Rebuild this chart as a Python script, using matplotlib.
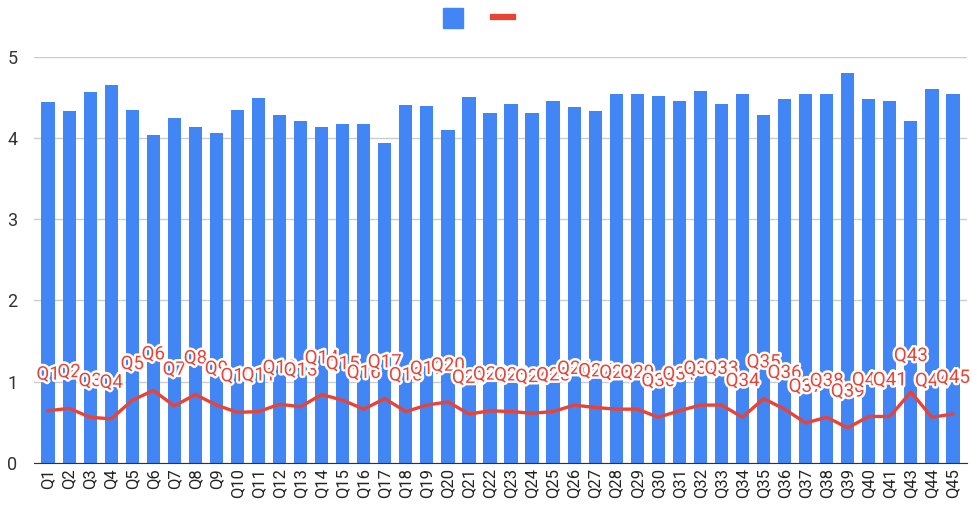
import matplotlib.pyplot as plt
import matplotlib.patheffects as pe
from matplotlib.patches import Rectangle
from matplotlib.lines import Line2D

plt.rcParams['font.family'] = ['Roboto', 'DejaVu Sans']

# categories (Q42 is absent in the source chart)
quarters = ['Q%d' % i for i in range(1, 46) if i != 42]

bar_values = [4.45, 4.33, 4.57, 4.66, 4.35, 4.04, 4.25, 4.14, 4.06, 4.35,
              4.49, 4.29, 4.21, 4.14, 4.18, 4.18, 3.94, 4.41, 4.39, 4.10,
              4.51, 4.31, 4.42, 4.31, 4.46, 4.38, 4.33, 4.54, 4.54, 4.52,
              4.46, 4.58, 4.42, 4.54, 4.29, 4.48, 4.54, 4.54, 4.80, 4.48,
              4.46, 4.21, 4.60, 4.54]

line_values = [0.64, 0.67, 0.56, 0.54, 0.77, 0.89, 0.70, 0.84, 0.71, 0.62,
               0.63, 0.72, 0.69, 0.84, 0.77, 0.66, 0.79, 0.63, 0.71, 0.75,
               0.60, 0.64, 0.63, 0.61, 0.63, 0.71, 0.68, 0.66, 0.66, 0.56,
               0.64, 0.71, 0.71, 0.56, 0.79, 0.66, 0.49, 0.56, 0.43, 0.57,
               0.57, 0.87, 0.56, 0.60]

blue = '#4285F4'
red = '#EA4335'

fig = plt.figure(figsize=(9.77, 5.12), dpi=100)
ax = fig.add_axes([0.0348, 0.0963, 0.9550, 0.7924])

x = list(range(len(quarters)))
ax.bar(x, bar_values, width=0.63, color=blue, zorder=2)
ax.plot(x, line_values, color=red, linewidth=2.4, zorder=3, solid_joinstyle='round')

for xi, v, name in zip(x, line_values, quarters):
    ax.annotate(name, (xi, v), xytext=(0, 26), textcoords='offset points',
                ha='center', va='center', fontsize=13.5, color=red, zorder=4,
                path_effects=[pe.withStroke(linewidth=3.5, foreground='white')])

ax.set_xlim(-0.67, len(quarters) - 1 + 0.67)
ax.set_ylim(0, 5)
ax.set_yticks([0, 1, 2, 3, 4, 5])
ax.set_xticks(x)
ax.set_xticklabels(quarters, rotation=90, fontsize=12, color='#222222')
ax.tick_params(axis='y', labelsize=13, labelcolor='#333333', length=0, pad=12)
ax.tick_params(axis='x', length=0, pad=4)
ax.grid(axis='y', color='#cccccc', linewidth=1, zorder=0)
for s in ['top', 'right', 'left']:
    ax.spines[s].set_visible(False)
ax.spines['bottom'].set_color('#333333')
ax.spines['bottom'].set_zorder(5)

# legend without text, drawn in figure pixel space
fw, fh = 977, 512
fig.add_artist(Rectangle((443 / fw, 1 - 28 / fh), 20 / fw, 20 / fh,
                         transform=fig.transFigure, color=blue))
fig.add_artist(Line2D([493 / fw, 513 / fw], [1 - 17 / fh, 1 - 17 / fh],
                      transform=fig.transFigure, color=red, linewidth=4.5))

fig.savefig('out.png', dpi=100)
